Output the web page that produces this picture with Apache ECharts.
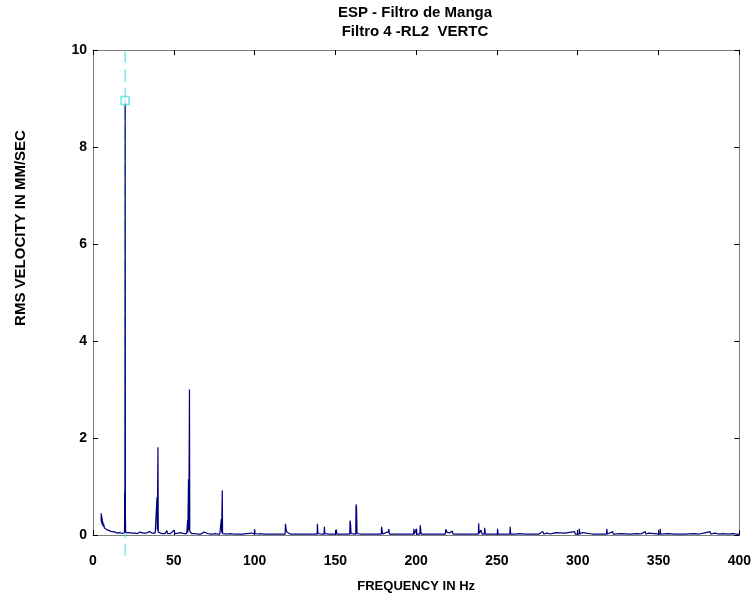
<!DOCTYPE html>
<html>
<head>
<meta charset="utf-8">
<script src="https://cdn.jsdelivr.net/npm/echarts@6/dist/echarts.min.js"></script>
<style>html,body{margin:0;padding:0;background:#fff;}#chart{width:754px;height:598px;}</style>
</head>
<body>
<div id="chart"></div>
<script>
// ---- data ----
const titleLines = ['ESP - Filtro de Manga', 'Filtro 4 -RL2  VERTC'];
const xAxisTitle = 'FREQUENCY IN Hz';
const yAxisTitle = 'RMS VELOCITY IN MM/SEC';
const xTicks = [0, 50, 100, 150, 200, 250, 300, 350, 400];
const yTicks = [0, 2, 4, 6, 8, 10];
// cursor / marked peak
const cursorPeak = [19.9, 8.96];
// spectrum: [frequency Hz, rms velocity mm/s]
const spectrum = [
[5.0,0.30],[5.1,0.45],[5.25,0.26],[5.4,0.40],[5.55,0.22],[5.7,0.34],[5.9,0.20],[6.1,0.27],[6.4,0.17],[6.7,0.22],
[7.0,0.15],[7.3,0.18],[7.6,0.13],[8.0,0.15],[8.4,0.11],[8.8,0.13],[9.2,0.10],[9.6,0.12],[10.0,0.09],[10.4,0.10],
[10.8,0.08],[11.2,0.10],[11.6,0.07],[12.0,0.08],[12.5,0.06],[13.0,0.07],[13.5,0.05],[14.0,0.06],[14.6,0.04],[15.2,0.05],
[15.8,0.04],[16.4,0.05],[17.0,0.03],[17.6,0.04],[18.2,0.03],[18.8,0.04],[19.3,0.03],[19.5,0.05],[19.6,0.88],[19.75,0.30],
[19.9,8.96],[20.05,0.42],[20.2,0.10],[20.4,0.05],[21.0,0.06],[21.6,0.04],[22.2,0.05],[23.0,0.03],[24.0,0.04],[25.0,0.03],
[26.0,0.04],[27.0,0.06],[27.5,0.03],[28.5,0.04],[29.2,0.06],[30.0,0.03],[31.0,0.04],[32.0,0.03],[33.0,0.04],[34.0,0.05],
[35.0,0.07],[35.6,0.03],[36.5,0.04],[37.5,0.03],[38.5,0.04],[39.4,0.03],[39.6,0.78],[39.8,0.10],[40.2,1.81],[40.4,0.06],
[40.8,0.04],[41.5,0.05],[42.5,0.03],[43.5,0.04],[44.5,0.03],[45.7,0.09],[46.2,0.03],[47.0,0.04],[48.0,0.03],[49.0,0.04],
[50.2,0.10],[50.6,0.03],[51.0,0.07],[51.5,0.03],[52.5,0.04],[53.5,0.03],[54.3,0.05],[55.0,0.02],[56.0,0.03],[57.0,0.02],
[58.0,0.03],[58.4,0.02],[58.55,0.31],[58.7,0.05],[59.1,1.15],[59.3,0.10],[59.7,3.00],[59.9,0.08],[60.2,0.04],[61.0,0.03],
[62.0,0.02],[63.0,0.03],[64.0,0.05],[65.0,0.02],[66.0,0.06],[67.0,0.02],[68.7,0.06],[69.5,0.02],[71.0,0.03],[72.5,0.02],
[74.0,0.02],[75.5,0.03],[77.0,0.02],[78.5,0.02],[79.3,0.02],[79.4,0.33],[79.6,0.05],[80.0,0.92],[80.2,0.03],[81.0,0.02],
[83.0,0.02],[85.0,0.03],[87.0,0.02],[90.0,0.02],[92.5,0.02],[94.9,0.03],[96.0,0.02],[98.3,0.04],[99.0,0.02],[99.8,0.02],
[100.0,0.12],[100.3,0.03],[102.0,0.02],[103.7,0.03],[105.0,0.02],[108.0,0.02],[111.0,0.02],[114.0,0.02],[117.0,0.02],[118.9,0.02],
[119.1,0.23],[119.5,0.12],[120.0,0.06],[120.8,0.03],[122.0,0.02],[126.0,0.02],[130.0,0.02],[134.0,0.02],[138.7,0.02],[138.9,0.23],
[139.2,0.03],[141.0,0.02],[143.0,0.02],[143.2,0.17],[143.5,0.03],[146.0,0.02],[150.4,0.02],[150.6,0.11],[150.9,0.02],[154.0,0.02],
[158.9,0.02],[159.1,0.30],[159.4,0.22],[159.7,0.03],[162.6,0.02],[162.8,0.63],[163.1,0.57],[163.4,0.03],[164.5,0.03],[165.5,0.02],
[166.5,0.03],[167.5,0.02],[168.5,0.03],[170.6,0.02],[174.0,0.02],[178.4,0.02],[178.6,0.17],[179.0,0.08],[179.3,0.02],[182.8,0.07],
[183.1,0.12],[183.4,0.02],[187.0,0.02],[191.0,0.02],[195.0,0.02],[198.4,0.02],[198.6,0.13],[198.9,0.02],[200.0,0.02],[200.2,0.13],
[200.5,0.02],[202.3,0.02],[202.5,0.20],[202.8,0.18],[203.1,0.02],[207.0,0.02],[211.0,0.02],[215.0,0.02],[218.1,0.02],[218.3,0.12],
[219.0,0.06],[219.6,0.02],[220.5,0.04],[221.2,0.02],[222.4,0.08],[222.8,0.02],[226.0,0.02],[230.0,0.02],[234.0,0.02],[238.5,0.02],
[238.7,0.24],[239.0,0.03],[240.1,0.10],[240.5,0.08],[240.8,0.02],[242.2,0.02],[242.4,0.15],[242.8,0.02],[246.0,0.02],[250.2,0.02],
[250.4,0.13],[250.7,0.02],[254.0,0.02],[258.0,0.02],[258.2,0.17],[258.5,0.02],[261.0,0.02],[264.0,0.03],[268.0,0.02],[272.0,0.02],
[276.0,0.02],[278.4,0.07],[279.0,0.02],[281.0,0.04],[283.0,0.02],[286.2,0.05],[287.0,0.02],[292.0,0.04],[293.0,0.02],[298.0,0.07],
[298.5,0.02],[300.8,0.02],[301.0,0.13],[301.3,0.02],[303.0,0.05],[304.0,0.02],[309.0,0.02],[314.0,0.02],[317.8,0.02],[318.0,0.13],
[318.3,0.02],[321.6,0.07],[322.0,0.02],[327.0,0.03],[332.0,0.02],[337.0,0.03],[339.0,0.02],[341.8,0.07],[342.2,0.02],[344.0,0.04],
[345.0,0.02],[350.8,0.02],[351.0,0.13],[351.3,0.02],[356.0,0.03],[360.0,0.02],[366.0,0.02],[372.0,0.03],[375.0,0.02],[378.0,0.04],
[379.0,0.02],[381.9,0.07],[382.3,0.02],[385.0,0.04],[387.0,0.02],[390.0,0.03],[393.0,0.02],[396.0,0.03],[398.0,0.02],[399.0,0.04],
[400.0,0.02]
];

// ---- chart ----
const chart = echarts.init(document.getElementById('chart'), null, {renderer: 'canvas'});
const lineCol = '#000080';
const axisGray = '#7f7f7f';
const font = 'Liberation Sans, Arial, Helvetica, sans-serif';
const xMin = xTicks[0], xMax = xTicks[xTicks.length - 1], xInt = xTicks[1] - xTicks[0];
const yMin = yTicks[0], yMax = yTicks[yTicks.length - 1], yInt = yTicks[1] - yTicks[0];

const baseAxis = {
  type: 'value',
  axisLine: {show: true, onZero: false, lineStyle: {color: axisGray, width: 1}},
  axisTick: {show: true, inside: true, length: 5, lineStyle: {color: '#000', width: 1}},
  splitLine: {show: false}
};

chart.setOption({
  animation: false,
  backgroundColor: '#fff',
  grid: {left: 93, right: 13, top: 50, bottom: 61, containLabel: false},
  graphic: [
    {type: 'text', x: 415, y: 3, style: {text: titleLines.join('\n'), font: 'bold 15px ' + font, fill: '#000', textAlign: 'center', textVerticalAlign: 'top', lineHeight: 19}},
    {type: 'text', rotation: Math.PI / 2, x: 21, y: 228, style: {text: yAxisTitle, font: 'bold 15px ' + font, fill: '#000', textAlign: 'center', textVerticalAlign: 'middle'}}
  ],
  xAxis: [
    Object.assign({}, baseAxis, {
      position: 'bottom', min: xMin, max: xMax, interval: xInt,
      name: xAxisTitle, nameLocation: 'middle', nameGap: 45,
      nameTextStyle: {fontFamily: font, fontWeight: 'bold', fontSize: 13, color: '#000'},
      axisLabel: {show: true, margin: 19, fontFamily: font, fontWeight: 'bold', fontSize: 14, color: '#000'}
    }),
    Object.assign({}, baseAxis, {
      position: 'top', min: xMin, max: xMax, interval: xInt, axisLabel: {show: false}
    })
  ],
  yAxis: [
    Object.assign({}, baseAxis, {
      position: 'left', min: yMin, max: yMax, interval: yInt,
      axisLabel: {show: true, margin: 6, fontFamily: font, fontWeight: 'bold', fontSize: 14, color: '#000'}
    }),
    Object.assign({}, baseAxis, {
      position: 'right', min: yMin, max: yMax, interval: yInt, axisLabel: {show: false}
    })
  ],
  series: [
    {
      type: 'custom', xAxisIndex: 0, yAxisIndex: 0, clip: false, silent: true, z: 1,
      data: [[cursorPeak[0], cursorPeak[1]]], encode: {x: 0, y: 1},
      renderItem: function (params, api) {
        const top = api.coord([api.value(0), yMax]);
        const bot = api.coord([api.value(0), yMin]);
        return {
          type: 'line',
          shape: {x1: top[0], y1: top[1], x2: bot[0], y2: bot[1] + 21},
          style: {stroke: '#40e0e0', lineWidth: 1, lineDash: [13, 6]}
        };
      }
    },
    {
      type: 'line', xAxisIndex: 0, yAxisIndex: 0, data: spectrum, showSymbol: false, z: 2,
      lineStyle: {color: lineCol, width: 1.2}, silent: true
    },
    {
      type: 'scatter', xAxisIndex: 0, yAxisIndex: 0, data: [cursorPeak], z: 3,
      symbol: 'rect', symbolSize: 8, silent: true,
      itemStyle: {color: '#ffffff', borderColor: '#40e0e0', borderWidth: 1.5}
    }
  ]
});
</script>
</body>
</html>
